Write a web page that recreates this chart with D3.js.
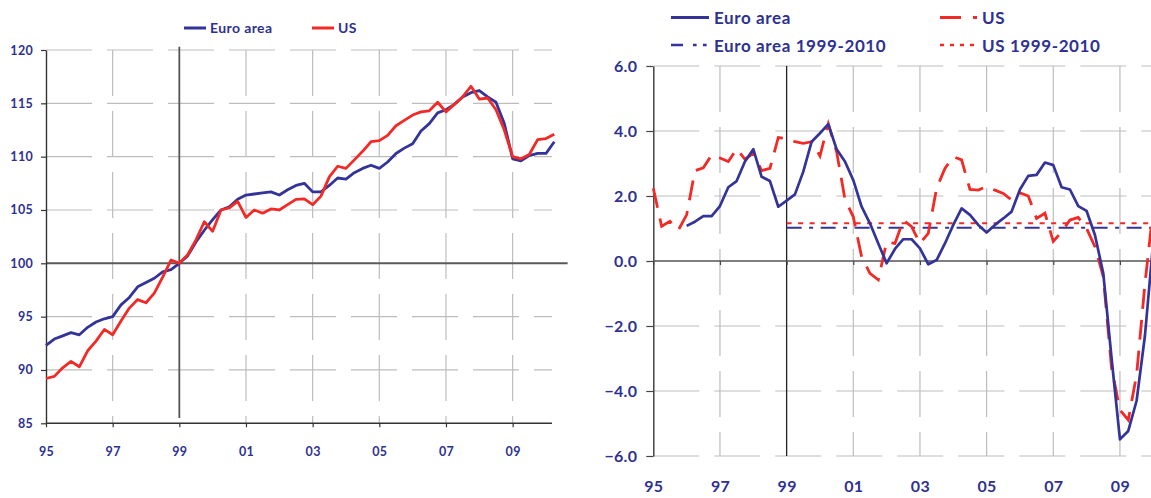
<!DOCTYPE html>
<html>
<head>
<meta charset="utf-8">
<script src="https://cdn.jsdelivr.net/npm/d3@7"></script>
<style>
  html, body { margin: 0; padding: 0; background: #ffffff; }
  svg { display: block; }
  text { font-family: Lato, "Open Sans", sans-serif; font-weight: 700; fill: #2e3192; }
</style>
</head>
<body>
<svg id="chart" width="1151" height="498"></svg>
<script>
// ---------- DATA ----------
// Quarterly, 1995Q1 onwards
const startYear = 1995;

// Left chart: index, 1999 = 100
const euroIndex = [92.3, 92.9, 93.2, 93.5, 93.3, 94.0, 94.5, 94.8, 95.0, 96.1, 96.8, 97.8, 98.2, 98.6, 99.2, 99.4,
  100.0, 100.7, 102.0, 103.1, 104.1, 105.0, 105.3, 106.0, 106.4, 106.5, 106.6, 106.7, 106.4, 106.9, 107.3, 107.5,
  106.7, 106.7, 107.3, 108.0, 107.9, 108.5, 108.9, 109.2, 108.9, 109.5, 110.3, 110.8, 111.2, 112.4, 113.1, 114.1,
  114.4, 114.9, 115.6, 116.0, 116.2, 115.6, 115.1, 113.1, 109.8, 109.6, 110.1, 110.3, 110.3, 111.4];
const usIndex = [89.2, 89.4, 90.2, 90.8, 90.3, 91.8, 92.7, 93.8, 93.3, 94.6, 95.8, 96.6, 96.3, 97.2, 98.7, 100.3,
  100.0, 100.8, 102.2, 103.9, 103.0, 105.0, 105.2, 105.8, 104.3, 105.0, 104.7, 105.1, 105.0, 105.5, 106.0, 106.05,
  105.5, 106.3, 108.1, 109.1, 108.9, 109.7, 110.5, 111.4, 111.5, 112.0, 112.9, 113.4, 113.9, 114.2, 114.3, 115.1,
  114.2, 114.9, 115.6, 116.6, 115.4, 115.5, 114.4, 112.5, 110.0, 109.8, 110.2, 111.6, 111.7, 112.1];

// Right chart: year-on-year growth (%)
const euroGrowth = [null, null, null, null, 1.08, 1.21, 1.38, 1.38, 1.69, 2.27, 2.46, 3.06, 3.44, 2.59, 2.46, 1.67,
  1.86, 2.05, 2.75, 3.67, 3.93, 4.21, 3.44, 3.06, 2.49, 1.67, 1.16, 0.54, -0.07, 0.37, 0.67, 0.67,
  0.39, -0.10, 0.03, 0.54, 1.11, 1.62, 1.42, 1.11, 0.88, 1.11, 1.31, 1.52, 2.20, 2.62, 2.65, 3.03,
  2.95, 2.27, 2.20, 1.69, 1.54, 0.80, -0.38, -3.00, -5.49, -5.23, -4.30, -2.30, 0.60];
const usGrowth = [2.24, 1.07, 1.22, 0.95, 1.42, 2.78, 2.87, 3.26, 3.17, 3.06, 3.45, 3.13, 3.31, 2.78, 2.85, 3.80,
  3.76, 3.67, 3.62, 3.67, 3.23, 4.22, 3.36, 1.90, 1.36, 0.13, -0.38, -0.58, 0.59, 0.54, 1.26, 1.06,
  0.54, 0.85, 2.24, 2.85, 3.21, 3.11, 2.20, 2.18, 2.29, 2.18, 2.08, 1.88, 2.10, 2.00, 1.31, 1.47,
  0.60, 0.90, 1.26, 1.34, 1.00, 0.44, -0.48, -3.30, -4.58, -4.89, -3.50, -0.70, 1.60];
const euroAvg = 1.02;   // Euro area 1999-2010 average
const usAvg = 1.16;     // US 1999-2010 average
const avgStartYear = 1999;

// Axis ticks / labels
const xTickYears = [1995, 1997, 1999, 2001, 2003, 2005, 2007, 2009];
const xTickLabels = ["95", "97", "99", "01", "03", "05", "07", "09"];
const leftYTicks = [85, 90, 95, 100, 105, 110, 115, 120];
const rightYTicks = [-6, -4, -2, 0, 2, 4, 6];
const legendLeft = ["Euro area", "US"];
const legendRight = ["Euro area", "US", "Euro area 1999-2010", "US 1999-2010"];

// ---------- STYLE ----------
const NAVY = "#33339a";
const RED = "#f22a26";
const GRID = "#bdbdbd";
const GRID_DASH = "46,15";

const svg = d3.select("#chart");
const tickLabel = (y) => xTickLabels[xTickYears.indexOf(y)];
const qYear = (i) => startYear + i / 4;

// =============== LEFT CHART ===============
{
  const g = svg.append("g");
  const x = d3.scaleLinear().domain([1995, 2011]).range([46, 579.3]);
  const y = d3.scaleLinear().domain([85, 120]).range([423.3, 50]);
  const xEnd = 2010.18;

  g.selectAll(".hg").data(leftYTicks.filter(v => v !== 85 && v !== 100)).join("line")
    .attr("x1", x(1995)).attr("x2", x(xEnd)).attr("y1", d => y(d)).attr("y2", d => y(d))
    .attr("stroke", GRID).attr("stroke-width", 1.2).attr("stroke-dasharray", GRID_DASH);
  g.selectAll(".vg").data(xTickYears.filter(v => v !== 1995 && v !== 1999)).join("line")
    .attr("x1", d => x(d)).attr("x2", d => x(d)).attr("y1", y(120)).attr("y2", y(85))
    .attr("stroke", GRID).attr("stroke-width", 1.2).attr("stroke-dasharray", GRID_DASH);

  g.append("line").attr("x1", x(1995)).attr("x2", x(2010.65)).attr("y1", y(100)).attr("y2", y(100))
    .attr("stroke", "#5a5a5a").attr("stroke-width", 2);
  g.append("line").attr("x1", x(1999)).attr("x2", x(1999)).attr("y1", y(120.3)).attr("y2", y(85.5))
    .attr("stroke", "#555").attr("stroke-width", 1.8);

  const ya = g.append("g").attr("transform", `translate(${x(1995)},0)`)
    .call(d3.axisLeft(y).tickValues(leftYTicks).tickSize(5).tickSizeOuter(0).tickPadding(8));
  ya.select(".domain").attr("stroke", "#333").attr("stroke-width", 1.4);
  ya.selectAll(".tick line").attr("stroke", "#333").attr("stroke-width", 1.2);
  ya.selectAll("text").style("font-size", "12.5px").style("letter-spacing", "0.3px").attr("fill", "#2e3192");

  const xa = g.append("g").attr("transform", `translate(0,${y(85)})`)
    .call(d3.axisBottom(x).tickValues(xTickYears).tickFormat(tickLabel).tickSize(4).tickPadding(20));
  xa.select(".domain").remove();
  xa.selectAll(".tick line").attr("stroke", "#333").attr("stroke-width", 1.2);
  xa.selectAll("text").style("font-size", "12.5px").style("letter-spacing", "0.3px").attr("fill", "#2e3192");
  g.append("line").attr("x1", x(1995)).attr("x2", x(xEnd)).attr("y1", y(85)).attr("y2", y(85))
    .attr("stroke", "#333").attr("stroke-width", 1.4);

  const line = d3.line().x((d, i) => x(qYear(i))).y(d => y(d));
  g.append("path").datum(euroIndex).attr("d", line).attr("fill", "none")
    .attr("stroke", NAVY).attr("stroke-width", 2.8).attr("stroke-linejoin", "round");
  g.append("path").datum(usIndex).attr("d", line).attr("fill", "none")
    .attr("stroke", RED).attr("stroke-width", 2.8).attr("stroke-linejoin", "round");

  const lg = g.append("g");
  const fs = "14px";
  lg.append("line").attr("x1", 184).attr("x2", 206).attr("y1", 28).attr("y2", 28)
    .attr("stroke", NAVY).attr("stroke-width", 3);
  lg.append("text").attr("x", 210).attr("y", 28).attr("dy", "0.35em").style("font-size", fs)
    .style("letter-spacing", "0.4px").text(legendLeft[0]);
  lg.append("line").attr("x1", 312).attr("x2", 334).attr("y1", 28).attr("y2", 28)
    .attr("stroke", RED).attr("stroke-width", 3);
  lg.append("text").attr("x", 338).attr("y", 28).attr("dy", "0.35em").style("font-size", fs)
    .style("letter-spacing", "0.4px").text(legendLeft[1]);
}

// =============== RIGHT CHART ===============
{
  const g = svg.append("g");
  const x = d3.scaleLinear().domain([1995, 2011]).range([653.3, 1186.6]);
  const y = d3.scaleLinear().domain([-6, 6]).range([456, 66]);
  const xEnd = 2011;

  g.selectAll(".hg").data(rightYTicks.filter(v => v !== 0)).join("line")
    .attr("x1", x(1995)).attr("x2", x(xEnd)).attr("y1", d => y(d)).attr("y2", d => y(d))
    .attr("stroke", GRID).attr("stroke-width", 1.2).attr("stroke-dasharray", GRID_DASH);
  g.selectAll(".vg").data(xTickYears.filter(v => v !== 1995 && v !== 1999)).join("line")
    .attr("x1", d => x(d)).attr("x2", d => x(d)).attr("y1", y(6)).attr("y2", y(-6))
    .attr("stroke", GRID).attr("stroke-width", 1.2).attr("stroke-dasharray", GRID_DASH);

  g.append("line").attr("x1", x(1999)).attr("x2", x(1999)).attr("y1", y(6)).attr("y2", y(-6))
    .attr("stroke", "#222").attr("stroke-width", 1.3);

  const ya = g.append("g").attr("transform", `translate(${x(1995)},0)`)
    .call(d3.axisLeft(y).tickValues(rightYTicks).tickFormat(d3.format(".1f")).tickSize(7).tickSizeOuter(0).tickPadding(9));
  ya.select(".domain").attr("stroke", "#444").attr("stroke-width", 1.5);
  ya.selectAll(".tick line").attr("stroke", "#444").attr("stroke-width", 1.2);
  ya.selectAll("text").style("font-size", "16px").style("letter-spacing", "0.3px").attr("fill", "#2e3192");

  const za = g.append("g").attr("transform", `translate(0,${y(0)})`)
    .call(d3.axisBottom(x).tickValues(xTickYears).tickFormat("").tickSize(4));
  za.select(".domain").remove();
  za.selectAll(".tick line").attr("stroke", "#444").attr("stroke-width", 1.2);
  g.append("line").attr("x1", x(1995)).attr("x2", x(xEnd)).attr("y1", y(0)).attr("y2", y(0))
    .attr("stroke", "#555").attr("stroke-width", 1.7);

  const xa = g.append("g").attr("transform", `translate(0,${y(-6)})`)
    .call(d3.axisBottom(x).tickValues(xTickYears).tickFormat(tickLabel).tickSize(0).tickPadding(25));
  xa.select(".domain").remove();
  xa.selectAll("text").style("font-size", "16px").style("letter-spacing", "0.3px").attr("fill", "#2e3192");

  g.append("line").attr("x1", x(avgStartYear)).attr("x2", x(xEnd)).attr("y1", y(euroAvg)).attr("y2", y(euroAvg))
    .attr("stroke", NAVY).attr("stroke-width", 2).attr("stroke-dasharray", "15,7.5,4,7.5");
  g.append("line").attr("x1", x(avgStartYear)).attr("x2", x(xEnd)).attr("y1", y(usAvg)).attr("y2", y(usAvg))
    .attr("stroke", RED).attr("stroke-width", 2).attr("stroke-dasharray", "5,6.5");

  const line = d3.line().defined(d => d !== null).x((d, i) => x(qYear(i))).y(d => y(d));
  g.append("path").datum(usGrowth).attr("d", line).attr("fill", "none")
    .attr("stroke", RED).attr("stroke-width", 2.8).attr("stroke-dasharray", "20,11");
  g.append("path").datum(euroGrowth).attr("d", line).attr("fill", "none")
    .attr("stroke", NAVY).attr("stroke-width", 2.7).attr("stroke-linejoin", "round");

  const lg = g.append("g");
  const fs = "17px";
  const ls = "0.6px";
  lg.append("line").attr("x1", 671).attr("x2", 709).attr("y1", 17.5).attr("y2", 17.5)
    .attr("stroke", NAVY).attr("stroke-width", 3);
  lg.append("text").attr("x", 714).attr("y", 18.5).attr("dy", "0.35em").style("font-size", fs)
    .style("letter-spacing", ls).text(legendRight[0]);
  lg.append("line").attr("x1", 940).attr("x2", 977).attr("y1", 17.5).attr("y2", 17.5)
    .attr("stroke", RED).attr("stroke-width", 3.2).attr("stroke-dasharray", "21,12");
  lg.append("text").attr("x", 982).attr("y", 18.5).attr("dy", "0.35em").style("font-size", fs)
    .style("letter-spacing", ls).text(legendRight[1]);
  lg.append("line").attr("x1", 671).attr("x2", 709).attr("y1", 45).attr("y2", 45)
    .attr("stroke", NAVY).attr("stroke-width", 2.4).attr("stroke-dasharray", "12,10,3.6,6.4,3.6,10");
  lg.append("text").attr("x", 714).attr("y", 46).attr("dy", "0.35em").style("font-size", fs)
    .style("letter-spacing", ls).text(legendRight[2]);
  lg.append("line").attr("x1", 940).attr("x2", 977).attr("y1", 45).attr("y2", 45)
    .attr("stroke", RED).attr("stroke-width", 2.4).attr("stroke-dasharray", "4,6");
  lg.append("text").attr("x", 982).attr("y", 46).attr("dy", "0.35em").style("font-size", fs)
    .style("letter-spacing", ls).text(legendRight[3]);
}
</script>
</body>
</html>
